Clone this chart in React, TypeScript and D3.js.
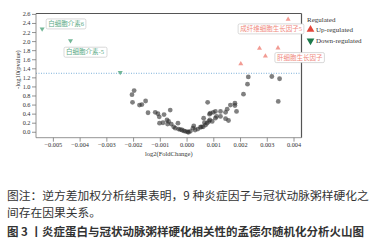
import React from "react";
import * as d3 from "d3";

// ---------- DATA ----------
const nsX = [-0.00198, -0.00206, -0.00204, -0.00178, -0.00169, -0.00155, -0.00146, -0.00119, -0.00109, -0.00086,
  -0.00104, -0.00063, -0.00103, -0.0009, -0.00075, -0.00069, -0.00073, -0.00059, -0.00034, -0.0005,
  -0.00044, -0.00032, -0.00019, -0.00006, 0.00002, 0.00012, 0.00022, 0.00025, 0.0004, 0.0005,
  0.0006, 0.00069, 0.00077, 0.00084, 0.00075, 0.00229, 0.00226, 0.00211, 0.00317, 0.00346,
  0.00341, 0.00179, 0.00179, 0.00162, 0.0015, 0.00185, 0.00144, 0.00125, 0.00106, 0.00098,
  0.00087, 0.00125, 0.00144, 0.00155, 0.0011, 0.00106, 0.00085, 0.00062, 0.00081, 0.00065,
  0.00094, 0.00054, -0.00012, 0.00005, 0.0003, -0.00025];
const nsY = [0.92, 0.83, 0.66, 0.6, 0.61, 0.69, 0.43, 0.44, 0.41, 0.39,
  0.34, 0.49, 0.2, 0.21, 0.27, 0.24, 0.18, 0.18, 0.2, 0.12,
  0.09, 0.07, 0.05, 0.02, 0.01, 0.02, 0.09, 0.14, 0.07, 0.11,
  0.12, 0.16, 0.66, 0.4, 0.2, 1.22, 1.06, 0.84, 1.23, 1.18,
  0.68, 0.64, 0.59, 0.6, 0.51, 0.46, 0.44, 0.46, 0.46, 0.44,
  0.42, 0.35, 0.3, 0.26, 0.35, 0.31, 0.27, 0.31, 0.24, 0.21,
  0.24, 0.12, 0.03, 0.0, 0.05, 0.06];

const upX = [0.00378, 0.00271, 0.00293, 0.0034, 0.00201];
const upY = [2.49, 1.85, 1.68, 1.86, 1.51];
const upLabels = ["成纤维细胞生长因子5", "", "肝细胞生长因子", "", ""];

const downX = [-0.00542, -0.00436, -0.0025];
const downY = [2.28, 2.02, 1.32];
const downLabels = ["白细胞介素6", "白细胞介素-5", ""];

const xTicks = [-0.005, -0.004, -0.003, -0.002, -0.001, 0, 0.001, 0.002, 0.003, 0.004];
const yTicks = [0, 0.2, 0.4, 0.6, 0.8, 1.0, 1.2, 1.4, 1.6, 1.8, 2.0, 2.2, 2.4, 2.6];
const threshold = 1.301;

const legendTitle = "Regulated";
const legendItems = ["Up-regulated", "Down-regulated"];
const xTitle = "log2(FoldChange)";
const yTitle = "-log10(pvalue)";
const captionLines = [
  "图注：逆方差加权分析结果表明，9 种炎症因子与冠状动脉粥样硬化之",
  "间存在因果关系。",
];
const figTitle = "图 3 丨炎症蛋白与冠状动脉粥样硬化相关性的孟德尔随机化分析火山图";

// ---------- LAYOUT ----------
const W = 387, H = 250;
const L = 36, R = 301.5, T = 13.5, B = 137.7;
const upLabelOffsets: Record<number, [number, number]> = { 0: [-50, 9.5], 2: [9.5, 1.5] };
const downLabelOffsets: Record<number, [number, number]> = { 0: [4, -5], 1: [-6.5, 11.5] };

const UP_COL = "#F08A80";
const DOWN_COL = "#5BAA85";
const UP_LEG = "#E4473C";
const DOWN_LEG = "#1E7A4C";
const serif = "'Liberation Serif', 'DejaVu Serif', serif";
const labFont = "'Liberation Serif', 'Noto Sans CJK SC', serif";
const cjk = "'Noto Sans CJK SC', sans-serif";

function Label({ x, y, text, color }: { x: number; y: number; text: string; color: string }) {
  const fs = 6.5;
  const w = d3.sum(Array.from(text), (c) => (/[\u4e00-\u9fff]/.test(c) ? fs : fs * 0.5)) + 4;
  const h = 10;
  return (
    <g>
      <rect x={x} y={y} width={w} height={h} rx={1.5} fill="white" stroke="#c8c8c8" strokeWidth={0.7} />
      <text x={x + 2} y={y + h / 2 + 2.3} fontSize={fs} fill={color} fontFamily={labFont}>{text}</text>
    </g>
  );
}

export default function App() {
  const x = d3.scaleLinear().domain([-0.00565, 0.00428]).range([L, R]);
  const y = d3.scaleLinear().domain([-0.12, 2.62]).range([B, T]);
  const fx = d3.format(".3f");
  const fy = d3.format(".1f");
  const tri = d3.symbol().type(d3.symbolTriangle).size(11)() as string;
  const triLeg = d3.symbol().type(d3.symbolTriangle).size(26)() as string;

  return (
    <div style={{ position: "absolute", left: 0, top: 0 }}>
      <svg width={W} height={H} style={{ display: "block", background: "white" }}>
        {/* threshold */}
        <line x1={L} x2={R} y1={y(threshold)} y2={y(threshold)} stroke="#6fa8d6" strokeWidth={0.9} strokeDasharray="1,1.5" />
        {/* ns points */}
        {nsX.map((v, i) => (
          <circle key={"n" + i} cx={x(v)} cy={y(nsY[i])} r={2.4} fill="#2b2b2b" fillOpacity={0.6} />
        ))}
        {/* up */}
        {upX.map((v, i) => (
          <path key={"u" + i} d={tri} transform={`translate(${x(v)},${y(upY[i])})`} fill={UP_COL} fillOpacity={0.85} />
        ))}
        {downX.map((v, i) => (
          <path key={"d" + i} d={tri} transform={`translate(${x(v)},${y(downY[i])}) rotate(180)`} fill={DOWN_COL} fillOpacity={0.85} />
        ))}
        {/* frame */}
        <line x1={L} x2={R} y1={T} y2={T} stroke="#555" strokeWidth={1.2} />
        <line x1={R} x2={R} y1={T} y2={B} stroke="#555" strokeWidth={1.2} />
        {/* axes */}
        <line x1={L} x2={L} y1={T} y2={B} stroke="#777" strokeWidth={0.8} />
        <line x1={L} x2={R} y1={B} y2={B} stroke="#777" strokeWidth={0.8} />
        {yTicks.map((t) => (
          <g key={"yt" + t}>
            <line x1={L - 4} x2={L} y1={y(t)} y2={y(t)} stroke="#777" strokeWidth={0.8} />
            <text x={L - 5.5} y={y(t) + 2} fontSize={6.3} textAnchor="end" fill="#333" fontFamily={serif}>{fy(t)}</text>
          </g>
        ))}
        {xTicks.map((t) => (
          <g key={"xt" + t}>
            <line x1={x(t)} x2={x(t)} y1={B} y2={B + 4} stroke="#777" strokeWidth={0.8} />
            <text x={x(t)} y={B + 9.5} fontSize={6.3} textAnchor="middle" fill="#333" fontFamily={serif}>{fx(t)}</text>
          </g>
        ))}
        <text x={(L + R) / 2} y={B + 18.5} fontSize={6.5} textAnchor="middle" fill="#333" fontFamily={serif}>{xTitle}</text>
        <text transform={`translate(20,${(T + B) / 2 - 6}) rotate(-90)`} fontSize={6.5} textAnchor="middle" fill="#333" fontFamily={serif}>{yTitle}</text>
        {/* labels */}
        {upLabels.map((lab, i) =>
          lab ? <Label key={"ul" + i} x={x(upX[i]) + upLabelOffsets[i][0]} y={y(upY[i]) + upLabelOffsets[i][1] - 5} text={lab} color={UP_COL} /> : null
        )}
        {downLabels.map((lab, i) =>
          lab ? <Label key={"dl" + i} x={x(downX[i]) + downLabelOffsets[i][0]} y={y(downY[i]) + downLabelOffsets[i][1] - 5} text={lab} color={DOWN_COL} /> : null
        )}
        {/* legend */}
        <text x={307} y={21.5} fontSize={7} fill="#333" fontFamily={serif}>{legendTitle}</text>
        {legendItems.map((lab, i) => (
          <g key={"lg" + i} transform={`translate(310.5,${30 + i * 10.3})`}>
            <path d={triLeg} transform={i === 0 ? "translate(0,-0.5)" : "translate(0,0.5) rotate(180)"} fill={i === 0 ? UP_LEG : DOWN_LEG} />
            <text x={5.5} y={2.4} fontSize={7} fill="#333" fontFamily={serif}>{lab}</text>
          </g>
        ))}
        {/* caption */}
        {captionLines.map((l, i) => (
          <text key={"c" + i} x={7} y={199.8 + i * 17.6} fontSize={11.75} fill="#333" fontFamily={cjk}>{l}</text>
        ))}
        <text x={7} y={235.8} fontSize={11.5} fontWeight="bold" fill="#333" fontFamily={cjk}>{figTitle}</text>
      </svg>
    </div>
  );
}
